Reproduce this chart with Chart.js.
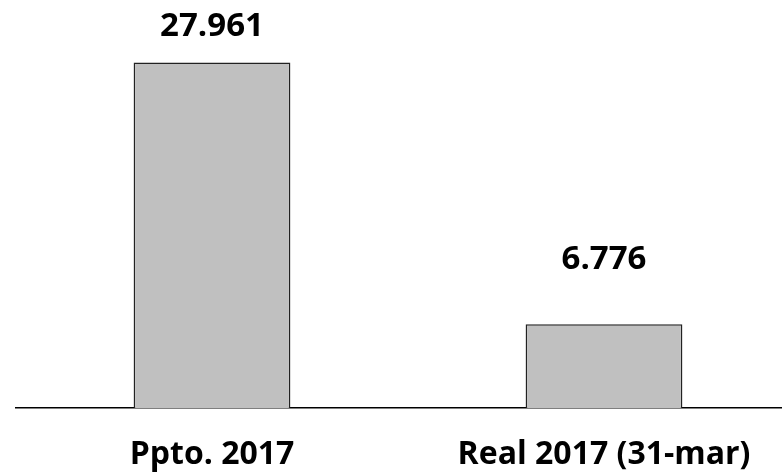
<!DOCTYPE html>
<html>
<head>
<meta charset="utf-8">
<script src="https://cdn.jsdelivr.net/npm/chart.js@4"></script>
<style>
  html, body { margin: 0; padding: 0; background: #fff; overflow: hidden; }
  canvas { display: block; }
</style>
</head>
<body>
<canvas id="budgetChart" width="800" height="476"></canvas>
<script>
// categories and values
const categories = ['Ppto. 2017', 'Real 2017 (31-mar)'];
const amounts = [27961, 6776];

// 27961 -> "27.961"
function fmtThousands(v) {
  return String(v).replace(/\B(?=(\d{3})+(?!\d))/g, '.');
}

// value labels above each bar
const valueLabels = {
  id: 'valueLabels',
  afterDatasetsDraw(chart, args, opts) {
    const ctx = chart.ctx;
    const meta = chart.getDatasetMeta(0);
    ctx.save();
    ctx.font = 'bold 33px "Open Sans"';
    ctx.fillStyle = '#000';
    ctx.textAlign = 'center';
    ctx.textBaseline = 'middle';
    meta.data.forEach(function (bar, i) {
      const gap = opts.gaps[i] || 36;
      ctx.fillText(fmtThousands(amounts[i]), bar.x, bar.y - gap);
    });
    ctx.restore();
  },
};

const budgetChart = new Chart(document.getElementById('budgetChart'), {
  type: 'bar',
  data: {
    labels: categories,
    datasets: [
      {
        data: amounts,
        backgroundColor: '#c0c0c0',
        borderColor: '#222',
        borderWidth: 1.5,
        barPercentage: 0.4,
        categoryPercentage: 1,
      },
    ],
  },
  options: {
    responsive: false,
    animation: false,
    layout: { padding: { left: 16, right: 0, top: 0, bottom: 0 } },
    plugins: {
      legend: { display: false },
      tooltip: { enabled: false },
      valueLabels: { gaps: [36, 65] },
    },
    scales: {
      x: {
        grid: { display: false, drawTicks: false },
        border: { display: true, color: '#000', width: 1.5 },
        ticks: {
          color: '#000',
          padding: 28,
          maxRotation: 0,
          font: { family: 'Open Sans', size: 32, weight: 'bold' },
        },
        // axis band below the baseline
        afterFit: function (scale) {
          scale.height = 68;
        },
      },
      y: {
        display: false,
        min: 0,
        max: 33019,
      },
    },
  },
  plugins: [valueLabels],
});
</script>
</body>
</html>
